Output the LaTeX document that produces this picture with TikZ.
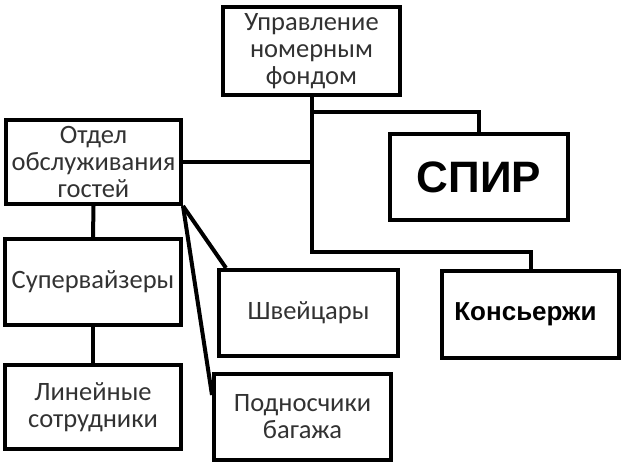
\documentclass[tikz,border=0pt]{standalone}
\usepackage{fontspec}
\setmainfont{Carlito}
\newfontfamily\arialfont{Liberation Sans}
\definecolor{txtgray}{RGB}{50,50,50}

\begin{document}
\begin{tikzpicture}[x=1pt,y=-1pt,
  unit/.style={draw,line width=4pt,inner sep=0pt,align=center,text=txtgray,
    font=\fontsize{26.5}{27}\selectfont},
  bigunit/.style={unit,text=black,font=\arialfont\bfseries\fontsize{26}{27}\selectfont},
  link/.style={line width=4pt}]
 \useasboundingbox (0,0) rectangle (622,476);
 \node[unit,minimum width=177pt,minimum height=88pt] (upr) at (311.5,51) {Управление\\номерным\\фондом};
 \node[bigunit,minimum width=178pt,minimum height=86pt,font=\arialfont\bfseries\fontsize{44}{46}\selectfont] (spir) at (479,177) {СПИР};
 \node[bigunit,minimum width=177pt,minimum height=87pt] (kons) at (530.5,314.5) {\hspace*{-10pt}Консьержи};
 \node[unit,minimum width=175pt,minimum height=84pt] (otdel) at (93.5,162) {Отдел\\обслуживания\\гостей};
 \node[unit,minimum width=176pt,minimum height=86pt] (super) at (93,282) {Супервайзеры};
 \node[unit,minimum width=176pt,minimum height=84pt] (lin) at (93,407) {Линейные\\сотрудники};
 \node[unit,minimum width=179pt,minimum height=86pt] (shv) at (308.5,313) {Швейцары};
 \node[unit,minimum width=177pt,minimum height=86pt] (podn) at (302.5,417) {Подносчики\\багажа};
 % trunk from the top box
 \coordinate (fork) at (311.5,112);
 \coordinate (trunk) at (311.5,252);
 \draw[link] (upr.south) -- (trunk) -| (kons.north);
 \draw[link] (fork) -| (spir.north);
 \draw[link] (otdel.east) -- (otdel.east -| upr.south);
 % left branch
 \draw[link] (otdel.south) -- (super.north);
 \draw[link] (super.south) -- (lin.north);
 \draw[link] (otdel.south east) -- ([xshift=9pt]shv.north west);
 \draw[link] (otdel.south east) -- ([yshift=22pt]podn.west);
\end{tikzpicture}
\end{document}
